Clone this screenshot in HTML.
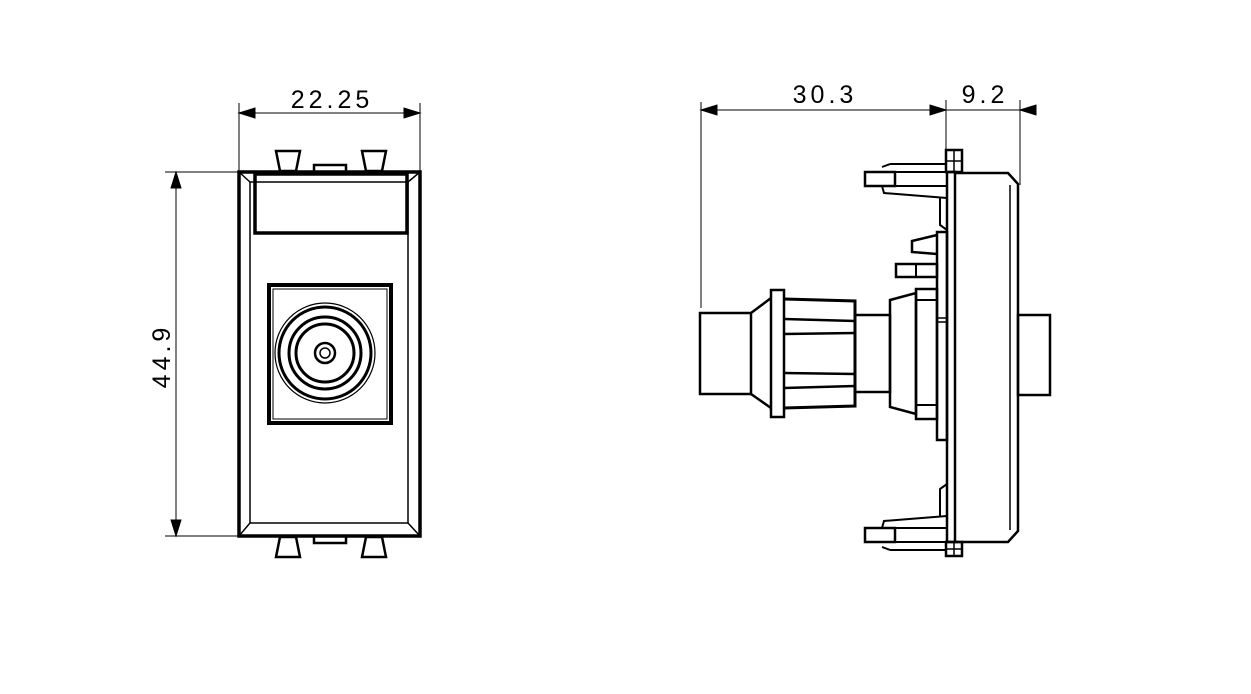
<!DOCTYPE html>
<html><head><meta charset="utf-8"><style>
html,body{margin:0;padding:0;background:#fff;}
svg{display:block;}
text{font-family:"Liberation Sans",sans-serif;font-size:25px;fill:#000;letter-spacing:4px;}
</style></head><body>
<svg width="1251" height="694" viewBox="0 0 1251 694" xmlns="http://www.w3.org/2000/svg" fill="none" stroke="#000">
<line x1="239" y1="103" x2="239" y2="172" stroke-width="1"/>
<line x1="420" y1="103" x2="420" y2="172" stroke-width="1"/>
<line x1="239" y1="113" x2="420" y2="113" stroke-width="1"/>
<polygon points="239,113 255,108 255,118" fill="#000"/>
<polygon points="420,113 404,108 404,118" fill="#000"/>
<text x="332" y="108" text-anchor="middle" stroke="none">22.25</text>
<line x1="165" y1="172" x2="239" y2="172" stroke-width="1"/>
<line x1="165" y1="536" x2="239" y2="536" stroke-width="1"/>
<line x1="176" y1="172" x2="176" y2="536" stroke-width="1"/>
<polygon points="176,172 171,188 181,188" fill="#000"/>
<polygon points="176,536 171,520 181,520" fill="#000"/>
<text x="0" y="0" transform="translate(170,356) rotate(-90)" text-anchor="middle" stroke="none">44.9</text>
<path d="M276,151 L300,151 L296,171 L280,171 Z" stroke-width="2.5"/>
<path d="M362,151 L386,151 L382,171 L366,171 Z" stroke-width="2.5"/>
<rect x="314" y="165" width="32" height="7" stroke-width="2.5"/>
<path d="M276,557 L300,557 L296,537 L280,537 Z" stroke-width="2.5"/>
<path d="M362,557 L386,557 L382,537 L366,537 Z" stroke-width="2.5"/>
<rect x="314" y="536" width="32" height="7" stroke-width="2.5"/>
<rect x="239" y="172" width="181" height="364" stroke-width="3.5"/>
<rect x="250" y="182" width="158" height="341" stroke-width="1.5"/>
<line x1="239" y1="172" x2="250" y2="182" stroke-width="1.5"/>
<line x1="420" y1="172" x2="408" y2="182" stroke-width="1.5"/>
<line x1="239" y1="536" x2="250" y2="523" stroke-width="1.5"/>
<line x1="420" y1="536" x2="408" y2="523" stroke-width="1.5"/>
<rect x="255" y="174" width="152" height="59" stroke-width="3.5"/>
<rect x="269" y="285" width="122" height="138" stroke-width="4"/>
<rect x="273" y="289" width="114" height="130" stroke-width="1"/>
<circle cx="325" cy="353" r="50" stroke-width="1.2"/>
<circle cx="325" cy="353" r="46" stroke-width="3"/>
<circle cx="325" cy="353" r="36" stroke-width="3"/>
<circle cx="325" cy="353" r="29" stroke-width="3"/>
<circle cx="325" cy="353" r="10" stroke-width="2.5"/>
<circle cx="325" cy="353" r="5" stroke-width="1.5"/>

<line x1="701" y1="102" x2="701" y2="308" stroke-width="1"/>
<line x1="946" y1="100" x2="946" y2="150" stroke-width="1"/>
<line x1="1020" y1="100" x2="1020" y2="185" stroke-width="1"/>
<line x1="701" y1="110" x2="1035" y2="110" stroke-width="1"/>
<polygon points="701,110 717,105 717,115" fill="#000"/>
<polygon points="946,110 930,105 930,115" fill="#000"/>
<polygon points="1020,110 1036,105 1036,115" fill="#000"/>
<text x="825" y="103" text-anchor="middle" stroke="none">30.3</text>
<text x="985" y="103" text-anchor="middle" stroke="none">9.2</text>

<rect x="947" y="172" width="8" height="370" stroke-width="2.5"/>
<path d="M955,173 L1008,173 L1018,184 L1018,531 L1008,542 L955,542" stroke-width="2.5"/>
<line x1="1010" y1="185" x2="1010" y2="530" stroke-width="1.5"/>
<rect x="1018" y="315" width="32" height="80" stroke-width="2.5"/>
<rect x="946" y="150" width="16" height="22" stroke-width="2.5"/>
<line x1="954" y1="150" x2="954" y2="172" stroke-width="1.5"/>
<line x1="946" y1="161" x2="962" y2="161" stroke-width="1.5"/>
<rect x="946" y="542" width="16" height="14" stroke-width="2.5"/>
<line x1="954" y1="542" x2="954" y2="556" stroke-width="1.5"/>
<line x1="946" y1="549" x2="962" y2="549" stroke-width="1.5"/>
<rect x="865" y="172" width="30" height="14" stroke-width="2.5"/>
<path d="M895,172 L947,172 M890,164 L947,164 M882,167 L890,164 M895,186 L947,186" stroke-width="2"/>
<path d="M882,186 L884,193 L947,198" stroke-width="2"/>
<path d="M947,230 L940,225 L940,198" stroke-width="2"/>
<rect x="865" y="528" width="30" height="14" stroke-width="2.5"/>
<path d="M895,542 L947,542 M890,550 L947,550 M882,547 L890,550 M895,528 L947,528" stroke-width="2"/>
<path d="M882,528 L884,521 L947,516" stroke-width="2"/>
<path d="M947,484 L940,489 L940,516" stroke-width="2"/>
<rect x="937" y="232" width="10" height="208" stroke-width="2.5"/>
<path d="M937,235 L912,241 L912,252 L937,254" stroke-width="2.5"/>
<rect x="896" y="264" width="41" height="13" stroke-width="2.5"/>
<line x1="916" y1="264" x2="916" y2="277" stroke-width="2"/>
<rect x="700" y="313" width="51" height="81" stroke-width="2.5"/>
<path d="M751,313 L771,298 M751,394 L771,408" stroke-width="2.5"/>
<rect x="771" y="290" width="13" height="127" stroke-width="2.5"/>
<path d="M784,299 L855,301 L855,406 L784,408" stroke-width="3"/>
<path d="M784,319 L855,321 M784,334 L855,333 M784,373 L855,374 M784,388 L855,386" stroke-width="2.5"/>
<rect x="855" y="315" width="35" height="77" stroke-width="2.5"/>
<path d="M890,300 L916,293 L916,414 L890,407 Z" stroke-width="2.5"/>
<rect x="916" y="289" width="21" height="130" stroke-width="2.5"/>
<path d="M916,300 L937,300 M916,405 L937,405" stroke-width="2"/>
<path d="M937,318 L947,318 M937,322 L947,322" stroke-width="1.5"/>
</svg>
</body></html>
